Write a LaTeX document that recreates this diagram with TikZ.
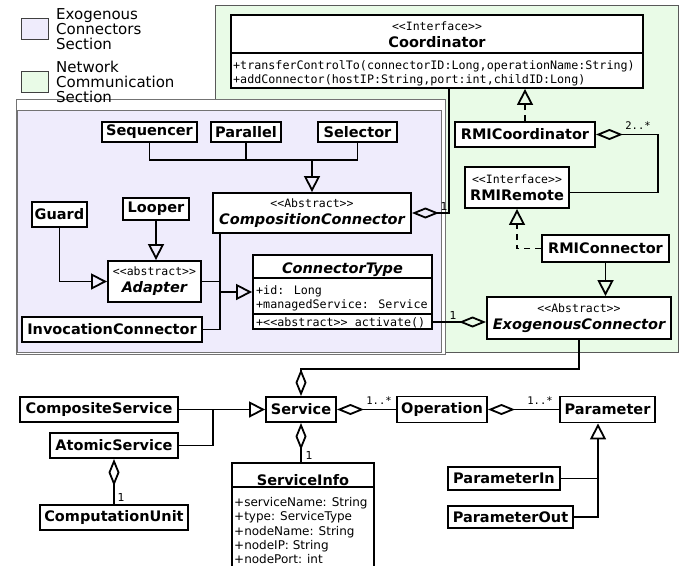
\documentclass[tikz,border=0pt]{standalone}
\usepackage{fontspec}
\setmainfont{DejaVu Sans}
\newfontfamily\monof{DejaVu Sans Mono}
\usetikzlibrary{arrows.meta}
\definecolor{netgreen}{RGB}{233,251,231}
\definecolor{exopurple}{RGB}{239,236,252}
\newcommand\stf{\fontsize{11.5}{11.5}\selectfont\monof\mdseries\upshape}
\newcommand\mtf{\fontsize{11.7}{14}\selectfont\monof}
\newcommand\nmf{\fontsize{14.5}{17}\selectfont\bfseries}
\newcommand\nmi{\fontsize{14.5}{17}\selectfont\bfseries\itshape}
\newcommand\atf{\fontsize{12}{14.3}\selectfont}
\newcommand\st[1]{{\stf <\kern0pt<#1>\kern0pt>}}
\begin{document}
\begin{tikzpicture}[x=1pt,y=-1pt,
  cls/.style={draw,line width=1.9pt,fill=white,inner sep=0pt,align=center,font=\nmf},
  stcls/.style={cls,font=\fontsize{14.5}{17}\selectfont\bfseries},
  ln/.style={line width=1.8pt},
  gen/.style={ln,-{Triangle[open,length=16pt,width=16pt,line width=1.8pt]}},
  real/.style={ln,dash pattern=on 6pt off 5pt,-{Triangle[open,length=16pt,width=16pt,line width=1.8pt]}},
  agg/.style={ln,{Diamond[open,length=27pt,width=11pt,line width=1.8pt]}-},
  lbl/.style={font=\fontsize{10.5}{11}\selectfont\monof,inner sep=0pt},
  lbls/.style={font=\fontsize{11}{11}\selectfont,inner sep=0pt},
  txt/.style={inner sep=0pt},
  legtxt/.style={font=\fontsize{15}{15}\selectfont,align=left,inner sep=0pt},
  region/.style={line width=0.9pt},
  divline/.style={line width=1.4pt}]
\useasboundingbox (0,0) rectangle (687,565);
\clip (0,0) rectangle (687,565);
\fill[white] (0,0) rectangle (687,565);

% regions
\filldraw[region,fill=netgreen,draw=black!65] (215,5) rectangle (678,352);
\filldraw[region,fill=white,draw=black!55] (16,99) rectangle (445,354);
\filldraw[region,fill=exopurple,draw=black!55] (17,110) rectangle (441,352);

% legend
\node[draw=black!75,fill=exopurple,line width=0.9pt,minimum width=27pt,minimum height=21pt,inner sep=0pt] (legexo) at (34.5,29) {};
\node[draw=black!75,fill=netgreen,line width=0.9pt,minimum width=27pt,minimum height=21pt,inner sep=0pt] (legnet) at (34.5,81.5) {};
\node[legtxt,anchor=north west] (legexotxt) at (56,8.5) {Exogenous\\Connectors\\Section};
\node[legtxt,anchor=north west] (legnettxt) at (56,60.5) {Network\\Communication\\Section};

% Coordinator
\node[cls,minimum width=412pt,minimum height=73pt] (coord) at (437,51.5) {};
\node[txt,anchor=base] (coordst) at (437,30) {\st{Interface}};
\node[txt,anchor=base,font=\nmf] (coordnm) at (437,47) {Coordinator};
\draw[divline] ([yshift=-39pt]coord.north west) -- ([yshift=-39pt]coord.north east);
\node[txt,anchor=base west,font=\mtf] (coordm1) at (233,69) {+transferControlTo(connectorID:Long,operationName:String)};
\node[txt,anchor=base west,font=\mtf] (coordm2) at (233,83) {+addConnector(hostIP:String,port:int,childID:Long)};

% exogenous section classes
\node[cls,minimum width=95pt,minimum height=20pt] (seq) at (149.5,132) {Sequencer};
\node[cls,minimum width=70pt,minimum height=20pt] (par) at (246,132) {Parallel};
\node[cls,minimum width=79pt,minimum height=20pt] (sel) at (357.5,132) {Selector};
\node[stcls,minimum width=198pt,minimum height=40pt] (comp) at (312,213) {\st{Abstract}\\{\nmi CompositionConnector}};
\node[cls,minimum width=55pt,minimum height=25pt] (guard) at (59.5,214.5) {Guard};
\node[cls,minimum width=66pt,minimum height=22pt] (looper) at (156,209) {Looper};
\node[stcls,minimum width=93pt,minimum height=41pt] (adapter) at (154.5,281.5) {\st{abstract}\\{\nmi Adapter}};
\node[cls,minimum width=180pt,minimum height=25pt] (invoc) at (112,329.5) {InvocationConnector};

% ConnectorType
\node[cls,minimum width=179pt,minimum height=74pt] (ctype) at (342.5,292) {};
\node[txt,anchor=base,font=\nmi] (ctypenm) at (342.5,273) {ConnectorType};
\draw[divline] ([yshift=-24pt]ctype.north west) -- ([yshift=-24pt]ctype.north east);
\node[txt,anchor=base west,font=\mtf] (ctypea1) at (256,294) {+id: Long};
\node[txt,anchor=base west,font=\mtf] (ctypea2) at (256,308) {+managedService: Service};
\draw[divline] ([yshift=-60pt]ctype.north west) -- ([yshift=-60pt]ctype.north east);
\node[txt,anchor=base west,font=\mtf] (ctypem1) at (256,326) {+<\kern0pt<abstract>\kern0pt> activate()};

% network section classes
\node[cls,minimum width=140pt,minimum height=25pt] (rmicoord) at (525,134.5) {RMICoordinator};
\node[stcls,minimum width=104pt,minimum height=41pt] (rmiremote) at (517,187.5) {\st{Interface}\\RMIRemote};
\node[cls,minimum width=127pt,minimum height=27pt] (rmiconn) at (605.5,248.5) {RMIConnector};
\node[stcls,minimum width=184pt,minimum height=42pt] (exo) at (579,318) {\st{Abstract}\\{\nmi ExogenousConnector}};

% service part
\node[cls,minimum width=70pt,minimum height=25pt] (service) at (301,409.5) {Service};
\node[cls,minimum width=158pt,minimum height=25pt] (compsvc) at (99,409.5) {CompositeService};
\node[cls,minimum width=128pt,minimum height=25pt] (atomic) at (114,445.5) {AtomicService};
\node[cls,minimum width=148pt,minimum height=25pt] (comput) at (114,517.5) {ComputationUnit};
\node[cls,minimum width=90pt,minimum height=26pt] (operation) at (442,409.5) {Operation};
\node[cls,minimum width=95pt,minimum height=26pt] (parameter) at (607.5,409.5) {Parameter};
\node[cls,minimum width=112pt,minimum height=23pt] (paramin) at (504,478.5) {ParameterIn};
\node[cls,minimum width=125pt,minimum height=22pt] (paramout) at (510.5,517) {ParameterOut};

% ServiceInfo
\node[cls,minimum width=142pt,minimum height=112pt] (sinfo) at (303,519) {};
\node[txt,anchor=base,font=\nmf] (sinfonm) at (303,485) {ServiceInfo};
\draw[divline] ([yshift=-25pt]sinfo.north west) -- ([yshift=-25pt]sinfo.north east);
\node[txt,anchor=base west,font=\atf] (sinfoa1) at (234,506) {+serviceName: String};
\node[txt,anchor=base west,font=\atf] (sinfoa2) at (234,520) {+type: ServiceType};
\node[txt,anchor=base west,font=\atf] (sinfoa3) at (234,535) {+nodeName: String};
\node[txt,anchor=base west,font=\atf] (sinfoa4) at (234,549) {+nodeIP: String};
\node[txt,anchor=base west,font=\atf] (sinfoa5) at (234,563) {+nodePort: int};

% helper coordinates
\coordinate (busc) at (0,160);
\coordinate (ck) at (449,0);
\coordinate (jc) at (220,292);
\coordinate (js) at (213,409.5);
\coordinate (jp) at (598,0);
\coordinate (busy) at (0,369);
\coordinate (rmix) at (658,0);
\coordinate (act) at ([yshift=-30pt]ctype.east);

% connectors exogenous
\draw[ln] (seq.south) -- (seq.south |- busc) -- (sel.south |- busc) -- (sel.south);
\draw[ln] (par.south) -- (par.south |- busc);
\draw[gen] (comp.north |- busc) -- (comp.north);
\draw[gen] (guard.south) |- (adapter.west);
\draw[gen] (looper.south) -- (looper.south |- adapter.north);
\draw[ln] (adapter.east) -- (adapter.east -| jc);
\draw[ln] (comp.south -| jc) -- (jc |- invoc.east) -- (invoc.east);
\draw[gen] (jc) -- (ctype.west);
\draw[agg] (comp.east) -- (comp.east -| ck) -- (coord.south -| ck);
\node[lbls] (m1) at (444,206) {1};

% connectors network
\draw[real] (rmicoord.north) -- (rmicoord.north |- coord.south);
\draw[agg] (rmicoord.east) -- (rmicoord.east -| rmix) |- ([yshift=-5pt]rmiremote.east);
\node[lbl] (m2) at (638,126) {2..*};
\draw[real] (rmiconn.west) -| (rmiremote.south);
\draw[gen] (rmiconn.south) -- (rmiconn.south |- exo.north);
\draw[agg] (exo.west |- act) -- (act);
\node[lbls] (m3) at (453,315) {1};
\draw[agg] (service.north) -- (service.north |- busy) -| (exo.south);

% connectors service
\draw[gen] (compsvc.east) -- (service.west);
\draw[ln] (atomic.east) -| (js);
\draw[agg] (atomic.south) -- (comput.north);
\node[lbls] (m4) at (121,497) {1};
\draw[agg] (service.south) -- (service.south |- sinfo.north);
\node[lbls] (m5) at (309,455) {1};
\draw[agg] (service.east) -- (operation.west);
\node[lbl] (m6) at (379,401) {1..*};
\draw[agg] (operation.east) -- (parameter.west);
\node[lbl] (m7) at (540,401) {1..*};
\draw[gen] (paramout.east) -| (jp |- parameter.south);
\draw[ln] (paramin.east) -- (paramin.east -| jp);
\end{tikzpicture}
\end{document}
